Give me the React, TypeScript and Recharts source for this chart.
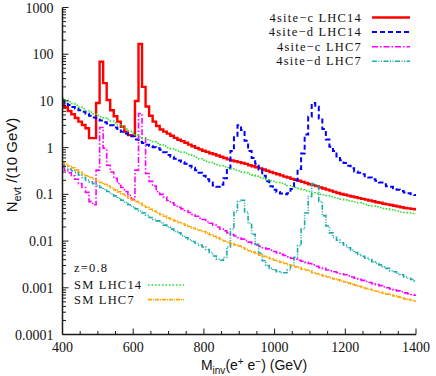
import { LineChart, Line, XAxis, YAxis } from 'recharts';

// bin centres, 10 GeV histogram (drawn like gnuplot histeps)
const mass = Array.from({ length: 101 }, (_, i) => 400 + 10 * i);

// 4site-c, LHC 14 TeV
const c14 = [
  8.3, 7.3, 6.1, 5.2, 4.3, 3.6, 3.05, 2.6, 1.6, 1.6,
  9, 69, 24, 10.5, 6.3, 4.7, 3.6, 2.8, 2.2, 1.85,
  1.8, 10, 165, 20, 7.6, 4.8, 3.6, 2.9, 2.45, 2.2,
  2.0, 1.8, 1.62, 1.48, 1.38, 1.27, 1.16, 1.07, 0.99, 0.92,
  0.86, 0.81, 0.76, 0.72, 0.68, 0.64, 0.6, 0.56, 0.53, 0.51,
  0.49, 0.47, 0.45, 0.42, 0.4, 0.38, 0.36, 0.34, 0.32, 0.3,
  0.285, 0.27, 0.255, 0.24, 0.23, 0.215, 0.205, 0.195, 0.185, 0.175,
  0.165, 0.158, 0.15, 0.14, 0.133, 0.126, 0.12, 0.113, 0.107, 0.102,
  0.098, 0.094, 0.09, 0.087, 0.083, 0.08, 0.077, 0.074, 0.071, 0.068,
  0.066, 0.063, 0.061, 0.059, 0.057, 0.055, 0.053, 0.051, 0.05, 0.049,
  0.048,
];

// 4site-d, LHC 14 TeV
const d14 = [
  10.5, 9.3, 8.2, 7.4, 6.9, 6.3, 5.9, 5.3, 4.8, 4.4,
  4.0, 3.8, 3.5, 3.3, 3.0, 2.7, 2.5, 2.2, 2.0, 1.9,
  1.75, 1.5, 1.34, 1.25, 1.15, 1.08, 1.02, 0.97, 0.9, 0.8,
  0.7, 0.64, 0.58, 0.53, 0.49, 0.45, 0.41, 0.37, 0.33, 0.29,
  0.25, 0.21, 0.18, 0.155, 0.145, 0.16, 0.22, 0.36, 0.85, 1.8,
  3.0, 2.4, 1.4, 0.85, 0.6, 0.45, 0.34, 0.25, 0.19, 0.15,
  0.125, 0.112, 0.104, 0.1, 0.106, 0.13, 0.2, 0.35, 0.75, 1.9,
  4.6, 9.0, 7.5, 4.2, 2.5, 1.5, 1.05, 0.85, 0.65, 0.54,
  0.47, 0.41, 0.36, 0.31, 0.29, 0.27, 0.245, 0.23, 0.21, 0.195,
  0.18, 0.165, 0.15, 0.145, 0.135, 0.125, 0.118, 0.11, 0.105, 0.1,
  0.097,
];

// 4site-c, LHC 7 TeV
const c7 = [
  0.38, 0.33, 0.29, 0.25, 0.21, 0.17, 0.14, 0.11, 0.07, 0.06,
  0.33, 2.7, 0.97, 0.42, 0.3, 0.22, 0.17, 0.14, 0.115, 0.095,
  0.078, 0.33, 5.4, 1.6, 0.28, 0.19, 0.15, 0.115, 0.1, 0.088,
  0.074, 0.066, 0.059, 0.053, 0.049, 0.045, 0.041, 0.037, 0.034, 0.031,
  0.029, 0.026, 0.024, 0.022, 0.02, 0.018, 0.0165, 0.015, 0.0138, 0.0128,
  0.0118, 0.011, 0.0102, 0.0095, 0.0088, 0.0082, 0.0077, 0.0072, 0.0068, 0.0064,
  0.006, 0.0056, 0.0052, 0.0049, 0.0046, 0.0043, 0.0041, 0.0039, 0.0037, 0.0035,
  0.0033, 0.0031, 0.0029, 0.0027, 0.0026, 0.0024, 0.0023, 0.0022, 0.0021, 0.002,
  0.0019, 0.0018, 0.0017, 0.0016, 0.00152, 0.00144, 0.00136, 0.0013, 0.00123, 0.00117,
  0.00111, 0.00105, 0.001, 0.00095, 0.0009, 0.00086, 0.00082, 0.00078, 0.00075, 0.00072,
  0.00069,
];

// 4site-d, LHC 7 TeV
const d7 = [
  0.43, 0.39, 0.35, 0.32, 0.29, 0.26, 0.23, 0.2, 0.185, 0.17,
  0.155, 0.14, 0.128, 0.115, 0.103, 0.093, 0.083, 0.075, 0.067, 0.06,
  0.054, 0.049, 0.044, 0.04, 0.036, 0.032, 0.029, 0.027, 0.025, 0.022,
  0.02, 0.018, 0.016, 0.015, 0.013, 0.0118, 0.0108, 0.0098, 0.009, 0.0082,
  0.0075, 0.0066, 0.0057, 0.0048, 0.0041, 0.0039, 0.0045, 0.0075, 0.018, 0.042,
  0.07, 0.075, 0.042, 0.024, 0.014, 0.0085, 0.0055, 0.0038, 0.003, 0.0026,
  0.0024, 0.0022, 0.0021, 0.0021, 0.0024, 0.003, 0.0045, 0.008, 0.018, 0.04,
  0.09, 0.17, 0.15, 0.07, 0.035, 0.021, 0.015, 0.012, 0.0105, 0.0092,
  0.0082, 0.0072, 0.0064, 0.0057, 0.0052, 0.0047, 0.0043, 0.004, 0.0036, 0.0033,
  0.0031, 0.0028, 0.0026, 0.0023, 0.0022, 0.002, 0.0019, 0.0017, 0.0016, 0.0015,
  0.00138,
];

// Standard Model, LHC 14 TeV
const sm14 = [
  11.5, 10.5, 9.6, 8.8, 8.1, 7.4, 6.8, 6.2, 5.8, 5.3,
  4.9, 4.6, 4.3, 4.0, 3.7, 3.4, 3.1, 2.8, 2.5, 2.25,
  2.05, 1.85, 1.7, 1.6, 1.5, 1.42, 1.33, 1.24, 1.16, 1.08,
  1.0, 0.94, 0.89, 0.85, 0.8, 0.76, 0.71, 0.66, 0.62, 0.58,
  0.54, 0.51, 0.48, 0.45, 0.43, 0.41, 0.39, 0.37, 0.35, 0.33,
  0.32, 0.3, 0.29, 0.27, 0.26, 0.245, 0.23, 0.22, 0.205, 0.195,
  0.188, 0.18, 0.172, 0.165, 0.152, 0.145, 0.14, 0.133, 0.125, 0.12,
  0.115, 0.108, 0.104, 0.1, 0.098, 0.094, 0.089, 0.086, 0.083, 0.079,
  0.076, 0.073, 0.071, 0.069, 0.066, 0.063, 0.061, 0.058, 0.056, 0.054,
  0.052, 0.05, 0.049, 0.047, 0.045, 0.044, 0.042, 0.041, 0.04, 0.039,
  0.038,
];

// Standard Model, LHC 7 TeV
const sm7 = [
  0.48, 0.44, 0.4, 0.37, 0.33, 0.3, 0.27, 0.25, 0.23, 0.21,
  0.195, 0.18, 0.165, 0.15, 0.138, 0.125, 0.113, 0.102, 0.092, 0.083,
  0.076, 0.07, 0.064, 0.058, 0.053, 0.048, 0.044, 0.04, 0.037, 0.034,
  0.031, 0.029, 0.027, 0.025, 0.0235, 0.022, 0.0205, 0.019, 0.018, 0.017,
  0.016, 0.0148, 0.0137, 0.0127, 0.0117, 0.0108, 0.01, 0.0094, 0.0088, 0.0083,
  0.0078, 0.0072, 0.0067, 0.0062, 0.0058, 0.0054, 0.005, 0.0047, 0.0045, 0.0042,
  0.0039, 0.0037, 0.0035, 0.0033, 0.0031, 0.003, 0.0028, 0.0027, 0.0025, 0.0024,
  0.0023, 0.0021, 0.002, 0.0019, 0.0018, 0.0017, 0.00162, 0.00155, 0.00148, 0.0014,
  0.00133, 0.00126, 0.0012, 0.00114, 0.00108, 0.00102, 0.00097, 0.00093, 0.00088, 0.00084,
  0.0008, 0.00076, 0.00073, 0.0007, 0.00067, 0.00064, 0.00061, 0.00058, 0.00056, 0.00054,
  0.00052,
];

const xTicks = [
  400, 450, 500, 550, 600, 650, 700, 750, 800, 850, 900,
  950, 1000, 1050, 1100, 1150, 1200, 1250, 1300, 1350, 1400,
];
const xLabels = [400, 600, 800, 1000, 1200, 1400];
const yDecades = [0.0001, 0.001, 0.01, 0.1, 1, 10, 100, 1000];
const yLabels = ['0.0001', '0.001', '0.01', '0.1', '1', '10', '100', '1000'];

// log minor tics 2..9 in each decade
const yTicks: number[] = [];
yDecades.forEach((d, i) => {
  yTicks.push(d);
  if (i < yDecades.length - 1) {
    for (let k = 2; k <= 9; k++) yTicks.push(k * d);
  }
});

const SERIF = '"Liberation Serif", "Times New Roman", serif';
const SANS = '"Liberation Sans", Arial, sans-serif';
const AXIS = '#1a1a1a';

const series = [
  { key: 'c14', name: '4site\u2212c LHC14', color: '#ff0000', width: 2.4, dash: undefined },
  { key: 'd14', name: '4site\u2212d LHC14', color: '#0000ff', width: 2, dash: '5 3' },
  { key: 'c7', name: '4site\u2212c LHC7', color: '#ff00ff', width: 1.6, dash: '6 2 1.5 2' },
  { key: 'd7', name: '4site\u2212d LHC7', color: '#1aabab', width: 1.6, dash: '5 1.5 1 1.5 1 1.5' },
  { key: 'sm14', name: 'SM LHC14', color: '#22e022', width: 1.5, dash: '1.5 2' },
  { key: 'sm7', name: 'SM LHC7', color: '#ffa500', width: 1.6, dash: '4 1 1 1' },
];

function BottomTick({ x, y, payload }: any) {
  const major = xLabels.includes(payload.value);
  return (
    <g>
      <line x1={x} y1={y} x2={x} y2={y - (major ? 6 : 3.5)} stroke={AXIS} strokeWidth={1} />
      {major && (
        <text x={x} y={y + 17} textAnchor="middle" fontFamily={SERIF} fontSize={14} fill="#111">
          {payload.value}
        </text>
      )}
    </g>
  );
}

function TopTick({ x, y, payload }: any) {
  const major = xLabels.includes(payload.value);
  return <line x1={x} y1={y} x2={x} y2={y + (major ? 6 : 3.5)} stroke={AXIS} strokeWidth={1} />;
}

function LeftTick({ x, y, payload }: any) {
  const i = yDecades.indexOf(payload.value);
  return (
    <g>
      <line x1={x} y1={y} x2={x + (i >= 0 ? 6 : 3.5)} y2={y} stroke={AXIS} strokeWidth={1} />
      {i >= 0 && (
        <text x={x - 9} y={y + 5} textAnchor="end" fontFamily={SERIF} fontSize={14} fill="#111">
          {yLabels[i]}
        </text>
      )}
    </g>
  );
}

function RightTick({ x, y, payload }: any) {
  const major = yDecades.includes(payload.value);
  return <line x1={x} y1={y} x2={x - (major ? 6 : 3.5)} y2={y} stroke={AXIS} strokeWidth={1} />;
}

export default function App() {
  const rows = mass.map((m, i) => ({
    m,
    c14: c14[i],
    d14: d14[i],
    c7: c7[i],
    d7: d7[i],
    sm14: sm14[i],
    sm7: sm7[i],
  }));

  const axisLine = { stroke: AXIS, strokeWidth: 1.5 };
  const top = series.slice(0, 4);
  const bottom = series.slice(4);
  const keyFont = { fontFamily: SERIF, fontSize: 12.5, letterSpacing: 1.2, fill: '#111' };
  const rowGap = 14.6;

  return (
    <div style={{ position: 'absolute', left: 0, top: 0, width: 436, height: 376, background: '#fff' }}>
      <LineChart
        width={436}
        height={376}
        data={rows}
        margin={{ top: 7.5, right: 20, bottom: 11.5, left: 7.5 }}
      >
        <XAxis
          dataKey="m"
          type="number"
          domain={[400, 1400]}
          allowDataOverflow
          ticks={xTicks}
          interval={0}
          tickSize={0}
          tickMargin={0}
          tickLine={false}
          axisLine={axisLine}
          tick={<BottomTick />}
          height={30}
        />
        <XAxis
          xAxisId="t"
          orientation="top"
          dataKey="m"
          type="number"
          domain={[400, 1400]}
          allowDataOverflow
          ticks={xTicks}
          interval={0}
          tickSize={0}
          tickMargin={0}
          tickLine={false}
          axisLine={axisLine}
          tick={<TopTick />}
          height={0}
        />
        <YAxis
          type="number"
          scale="log"
          domain={[0.0001, 1000]}
          allowDataOverflow
          ticks={yTicks}
          interval={0}
          tickSize={0}
          tickMargin={0}
          tickLine={false}
          axisLine={axisLine}
          tick={<LeftTick />}
          width={55}
        />
        <YAxis
          yAxisId="r"
          orientation="right"
          type="number"
          scale="log"
          domain={[0.0001, 1000]}
          allowDataOverflow
          ticks={yTicks}
          interval={0}
          tickSize={0}
          tickMargin={0}
          tickLine={false}
          axisLine={axisLine}
          tick={<RightTick />}
          width={0}
        />
        {series.map((s) => (
          <Line
            key={s.key}
            type="step"
            dataKey={s.key}
            name={s.name}
            stroke={s.color}
            strokeWidth={s.width}
            strokeDasharray={s.dash}
            dot={false}
            activeDot={false}
            isAnimationActive={false}
          />
        ))}
      </LineChart>

      <svg
        width={436}
        height={376}
        style={{ position: 'absolute', left: 0, top: 0, pointerEvents: 'none' }}
      >
        {/* axis titles */}
        <text x={254} y={370} textAnchor="middle" fontFamily={SANS} fontSize={14} fill="#111">
          M<tspan fontSize={10} dy={4}>inv</tspan>
          <tspan dy={-4}>(e</tspan>
          <tspan fontSize={10} dy={-5}>+</tspan>
          <tspan dy={5}> e</tspan>
          <tspan fontSize={10} dy={-5}>{'\u2212'}</tspan>
          <tspan dy={5}>) (GeV)</tspan>
        </text>
        <text
          x={0}
          y={0}
          transform="translate(17,165) rotate(-90)"
          textAnchor="middle"
          fontFamily={SANS}
          fontSize={15}
          fill="#111"
        >
          N<tspan fontSize={11} dy={4}>evt</tspan>
          <tspan dy={-4}> /(10 GeV)</tspan>
        </text>

        {/* key, top right */}
        {top.map((s, i) => (
          <g key={s.key}>
            <text x={362} y={21.5 + i * rowGap} textAnchor="end" {...keyFont}>
              {s.name}
            </text>
            <line
              x1={372}
              x2={410}
              y1={17.5 + i * rowGap}
              y2={17.5 + i * rowGap}
              stroke={s.color}
              strokeWidth={s.width}
              strokeDasharray={s.dash}
            />
          </g>
        ))}

        {/* key, bottom left */}
        <text x={74} y={272} {...keyFont}>
          z=0.8
        </text>
        {bottom.map((s, i) => (
          <g key={s.key}>
            <text x={74} y={289 + i * rowGap} {...keyFont}>
              {s.name}
            </text>
            <line
              x1={148}
              x2={184}
              y1={285 + i * rowGap}
              y2={285 + i * rowGap}
              stroke={s.color}
              strokeWidth={s.width}
              strokeDasharray={s.dash}
            />
          </g>
        ))}
      </svg>
    </div>
  );
}
